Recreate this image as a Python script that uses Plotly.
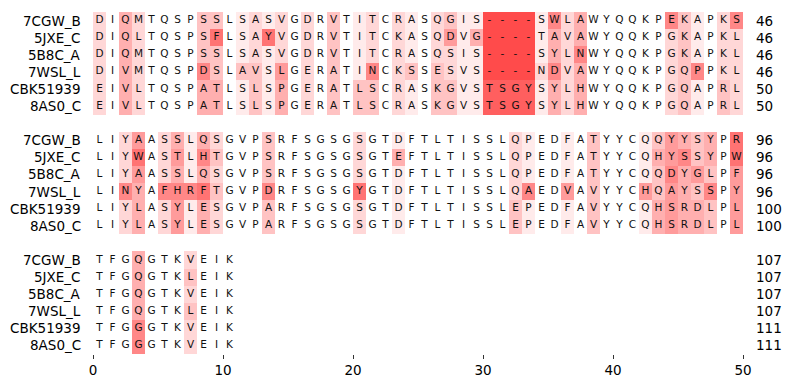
import plotly.graph_objects as go

names = ["7CGW_B", "5JXE_C", "5B8C_A", "7WSL_L", "CBK51939", "8AS0_C"]

block1_seq = [
    "DIQMTQSPSSLSASVGDRVTITCRASQGIS----SWLAWYQQKPEKAPKS",
    "DIQLTQSPSFLSAYVGDRVTITCKASQDVG----TAVAWYQQKPGKAPKL",
    "DIQMTQSPSSLSASVGDRVTITCRASQSIS----SYLNWYQQKPGKAPKL",
    "DIVMTQSPDSLAVSLGERATINCKSSESVS----NDVAWYQQKPGQPPKL",
    "EIVLTQSPATLSLSPGERATLSCRASKGVSTSGYSYLHWYQQKPGQAPRL",
    "EIVLTQSPATLSLSPGERATLSCRASKGVSTSGYSYLHWYQQKPGQAPRL",
]
block1_score = [
    "2042000033" "0121202030" "1202102311" "9999162400" "0000631026",
    "2042000037" "0127202030" "1202102514" "9999142400" "0000231022",
    "2042000033" "0121202030" "1202102211" "9999142600" "0000231022",
    "2042000063" "0331502030" "1602303211" "9999262400" "0000236022",
    "2042000044" "0131402030" "3302103311" "8888142400" "0000231032",
    "2042000044" "0131402030" "3302103311" "8888142400" "0000231032",
]
block1_end = [46, 46, 46, 46, 50, 50]

block2_seq = [
    "LIYAASSLQSGVPSRFSGSGSGTDFTLTISSLQPEDFATYYCQQYYSYPR",
    "LIYWASTLHTGVPSRFSGSGSGTEFTLTISSLQPEDFATYYCQHYSSYPW",
    "LIYAASSLQSGVPSRFSGSGSGTDFTLTISSLQPEDFATYYCQQDYGLPF",
    "LINYAFHRFTGVPDRFSGSGYGTDFTLTISSLQAEDVAVYYCHQAYSSPY",
    "LIYLASYLESGVPARFSGSGSGTDFTLTISSLEPEDFAVYYCQHSRDLPL",
    "LIYLASYLESGVPARFSGSGSGTDFTLTISSLEPEDFAVYYCQHSRDLPL",
]
block2_score = [
    "0025024142" "0003000000" "2001000000" "0021001030" "0013543407",
    "0027025163" "0003000000" "2004000000" "0021001030" "0014563407",
    "0025024142" "0003000000" "2001000000" "0021001030" "0013645305",
    "0064066673" "0006000000" "7001000000" "0026005030" "0053543605",
    "0024025142" "0003000000" "2001000000" "0031001030" "0014544305",
    "0024025142" "0003000000" "2001000000" "0031001030" "0014544305",
]
block2_end = [96, 96, 96, 96, 100, 100]

block3_seq = [
    "TFGQGTKVEIK",
    "TFGQGTKLEIK",
    "TFGQGTKVEIK",
    "TFGQGTKLEIK",
    "TFGGGTKVEIK",
    "TFGGGTKVEIK",
]
block3_score = [
    "00040002000",
    "00040003000",
    "00040002000",
    "00040003000",
    "00060002000",
    "00060002000",
]
block3_end = [107, 107, 107, 107, 111, 111]

x_ticks = [0, 10, 20, 30, 40, 50]

blocks = [
    (block1_seq, block1_score, block1_end),
    (block2_seq, block2_score, block2_end),
    (block3_seq, block3_score, block3_end),
]
ncols = 50
rows_per_block = len(names) + 1
nrows = rows_per_block * len(blocks) - 1

z = [[None] * ncols for _ in range(nrows)]
tx, ty, ts = [], [], []
annotations = []
for b, (seqs, scores, ends) in enumerate(blocks):
    for i, (s, sc) in enumerate(zip(seqs, scores)):
        r = b * rows_per_block + i
        for j, (ch, v) in enumerate(zip(s, sc)):
            z[r][j] = int(v)
            tx.append(j + 0.5)
            ty.append(r)
            ts.append(ch)
        annotations.append(dict(
            x=-0.015, xref="paper", y=r, yref="y", text=names[i],
            xanchor="right", yanchor="middle", showarrow=False,
            font=dict(family="DejaVu Sans", size=13.5, color="#000000")))
        annotations.append(dict(
            x=1.0165, xref="paper", y=r, yref="y", text=str(ends[i]),
            xanchor="left", yanchor="middle", showarrow=False,
            font=dict(family="DejaVu Sans", size=13.5, color="#000000")))

fig = go.Figure()
fig.add_trace(go.Heatmap(
    x=[j + 0.5 for j in range(ncols)],
    y=list(range(nrows)),
    z=z,
    zmin=0, zmax=9,
    colorscale=[[0, "rgb(255,255,255)"], [1, "rgb(255,75,75)"]],
    showscale=False,
    hoverinfo="skip",
))
fig.add_trace(go.Scatter(
    x=tx, y=ty, text=ts, mode="text",
    textfont=dict(family="DejaVu Sans", size=10.5, color="#111111"),
    hoverinfo="skip", showlegend=False,
))

fig.update_layout(
    width=790, height=390,
    margin=dict(l=93, r=47, t=12, b=33),
    paper_bgcolor="white", plot_bgcolor="white",
    showlegend=False,
    annotations=annotations,
    xaxis=dict(
        range=[0, 50], tickvals=x_ticks, ticktext=[str(t) for t in x_ticks],
        ticks="outside", ticklen=4, tickcolor="#333333", tickwidth=1,
        showgrid=False, zeroline=False, showline=False,
        tickfont=dict(family="DejaVu Sans", size=13.5, color="#000000"),
    ),
    yaxis=dict(range=[nrows - 0.5, -0.5], visible=False),
)

fig.write_html(
    "out.html",
    config={"displayModeBar": False},
    post_script="document.body.style.margin='0';document.body.style.padding='0';",
)
